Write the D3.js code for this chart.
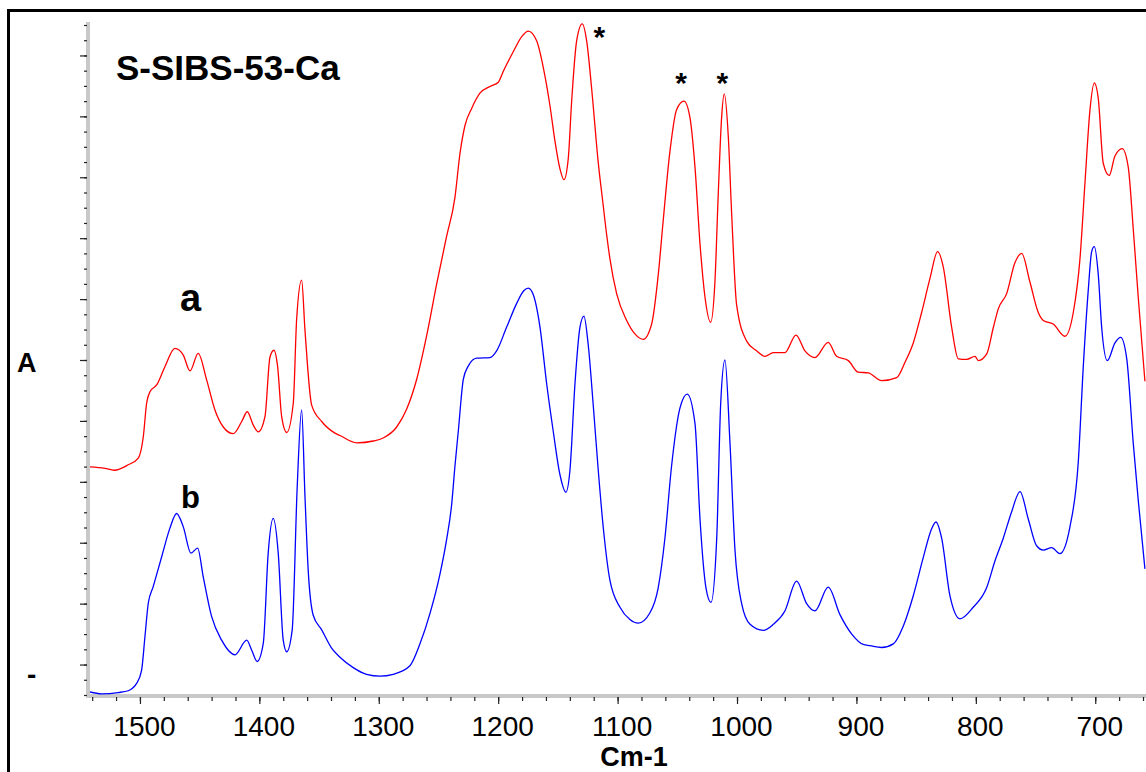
<!DOCTYPE html>
<html>
<head>
<meta charset="utf-8">
<script src="https://cdn.jsdelivr.net/npm/d3@7"></script>
<style>
  html, body { margin: 0; padding: 0; background: #fff; }
  svg { display: block; }
</style>
</head>
<body>
<svg id="chart" width="1146" height="772"></svg>
<script>
// ---- Data ----
const wavenumberA = [1546.1,1529.3,1521.5,1509.8,1501.4,1497.2,1494.4,1491.6,1486.0,1479.1,1470.7,1463.7,1458.1,1451.2,1444.1,1437.2,1430.2,1421.9,1414.8,1410.1,1405.1,1400.9,1395.3,1391.1,1387.8,1384.7,1381.3,1377.1,1371.6,1368.8,1364.6,1361.8,1356.2,1347.8,1336.7,1332.5,1318.5,1304.6,1296.3,1285.0,1276.7,1268.3,1259.9,1251.5,1243.2,1236.2,1232.0,1227.8,1222.2,1215.3,1206.9,1199.9,1195.7,1187.4,1180.3,1174.8,1167.8,1162.3,1156.6,1152.5,1148.3,1144.9,1141.3,1138.5,1134.3,1129.6,1125.9,1121.7,1116.2,1112.0,1110.6,1106.4,1100.8,1092.4,1085.5,1078.5,1071.5,1065.9,1061.8,1056.2,1050.6,1044.4,1039.4,1035.2,1031.0,1026.8,1022.1,1018.5,1015.7,1012.9,1010.7,1007.3,1004.5,1000.3,991.9,983.6,976.6,969.6,959.9,950.6,943.1,934.7,923.6,916.6,906.8,898.5,890.1,878.9,866.3,859.4,852.4,845.4,838.4,832.0,827.3,820.2,814.7,807.7,800.7,797.9,790.9,785.4,781.2,774.2,767.2,761.6,754.7,747.7,743.5,735.2,725.4,718.4,712.8,708.6,704.4,700.8,697.5,693.3,688.3,683.5,677.4,672.4,668.2,664.0,658.4];
const absorbanceA = [0.375,0.372,0.369,0.378,0.389,0.424,0.479,0.498,0.509,0.539,0.569,0.558,0.532,0.561,0.517,0.468,0.440,0.429,0.449,0.465,0.443,0.432,0.457,0.555,0.566,0.539,0.457,0.431,0.479,0.616,0.681,0.599,0.476,0.449,0.430,0.426,0.414,0.417,0.422,0.440,0.469,0.518,0.590,0.675,0.753,0.817,0.889,0.935,0.963,0.988,0.999,1.006,1.024,1.056,1.081,1.090,1.074,1.031,0.967,0.910,0.864,0.846,0.881,0.974,1.074,1.102,1.074,0.995,0.874,0.803,0.779,0.716,0.659,0.615,0.593,0.584,0.609,0.691,0.779,0.892,0.961,0.975,0.948,0.867,0.741,0.653,0.612,0.678,0.823,0.948,0.987,0.917,0.791,0.640,0.581,0.565,0.556,0.562,0.562,0.591,0.565,0.554,0.579,0.556,0.549,0.530,0.529,0.516,0.521,0.546,0.578,0.628,0.684,0.728,0.703,0.603,0.552,0.551,0.556,0.549,0.560,0.603,0.634,0.659,0.710,0.725,0.678,0.628,0.615,0.609,0.589,0.628,0.716,0.841,0.961,1.005,0.980,0.873,0.853,0.885,0.897,0.867,0.766,0.653,0.515];

const wavenumberB = [1541.9,1532.1,1518.2,1509.8,1502.8,1498.6,1495.8,1493.0,1488.9,1481.8,1474.9,1469.3,1463.7,1457.3,1451.7,1447.0,1440.0,1431.6,1420.4,1410.6,1406.5,1401.8,1396.7,1392.6,1388.4,1384.2,1380.0,1377.1,1372.5,1368.3,1364.6,1361.8,1359.1,1354.9,1347.8,1339.5,1332.5,1321.4,1310.2,1299.0,1287.9,1273.9,1265.5,1257.1,1248.8,1243.2,1239.0,1236.2,1233.4,1229.2,1225.1,1218.0,1206.9,1201.3,1192.9,1184.5,1178.4,1174.8,1170.6,1165.0,1159.4,1153.9,1148.3,1143.3,1139.9,1135.7,1131.5,1128.2,1124.6,1120.4,1116.2,1112.0,1106.4,1098.0,1089.7,1082.7,1072.9,1066.0,1060.4,1054.8,1047.8,1041.7,1035.2,1031.0,1026.0,1021.8,1017.0,1013.7,1010.1,1005.9,1001.7,996.1,989.1,978.0,969.6,959.9,950.1,941.7,934.7,923.6,913.8,903.9,894.3,888.6,878.9,869.1,860.8,852.4,844.0,837.0,833.4,828.6,821.7,813.3,802.2,791.0,784.0,777.1,770.0,763.0,756.1,749.1,743.5,736.5,729.6,721.2,714.2,710.0,705.8,703.0,700.8,697.5,694.6,689.9,683.5,678.7,673.7,668.2,664.0,658.4];
const absorbanceB = [0.005,0.002,0.004,0.007,0.019,0.041,0.096,0.151,0.178,0.227,0.274,0.298,0.276,0.233,0.241,0.194,0.129,0.090,0.066,0.090,0.074,0.055,0.085,0.233,0.290,0.233,0.090,0.071,0.107,0.342,0.468,0.326,0.205,0.131,0.107,0.077,0.062,0.045,0.034,0.031,0.034,0.048,0.084,0.134,0.198,0.255,0.312,0.376,0.433,0.518,0.540,0.553,0.554,0.565,0.604,0.643,0.664,0.668,0.657,0.604,0.511,0.433,0.362,0.333,0.369,0.511,0.604,0.622,0.575,0.476,0.369,0.275,0.188,0.144,0.124,0.118,0.135,0.176,0.257,0.376,0.471,0.494,0.446,0.289,0.176,0.152,0.257,0.477,0.550,0.414,0.238,0.150,0.116,0.106,0.116,0.138,0.187,0.150,0.138,0.177,0.132,0.100,0.083,0.081,0.078,0.084,0.113,0.163,0.226,0.273,0.284,0.257,0.163,0.125,0.144,0.176,0.220,0.257,0.301,0.334,0.289,0.245,0.238,0.242,0.232,0.276,0.383,0.540,0.666,0.728,0.736,0.691,0.603,0.549,0.578,0.587,0.553,0.414,0.320,0.207];

const xTickValues = [1500, 1400, 1300, 1200, 1100, 1000, 900, 800, 700];
const xMinorTickValues = d3.range(1540, 659, -20);
const yMajorTickValues = d3.range(0, 11).map(i => 0.05 + i * 0.1);
const yMinorTickValues = d3.range(0, 45).map(i => i * 0.025);
const asteriskPeaks = [1129.6, 1044.4, 1010.7];
const seriesLabels = ["a", "b"];
const titleText = "S-SIBS-53-Ca";
const xAxisTitle = "Cm-1";
const yAxisTitle = "A";

// ---- Scales ----
const xScale = d3.scaleLinear().domain([1543.5, 657.5]).range([88, 1146]);
const yScale = d3.scaleLinear().domain([0, 1.1]).range([695, 25]);

const svg = d3.select("#chart");
const FONT = "'Liberation Sans', Arial, Helvetica, sans-serif";

// outer frame
svg.append("rect")
  .attr("x", 8.5).attr("y", 10.5)
  .attr("width", 1300).attr("height", 900)
  .attr("fill", "none").attr("stroke", "#000").attr("stroke-width", 3);

// gray axis bars
svg.append("line")
  .attr("x1", xScale.range()[0]).attr("x2", xScale.range()[1])
  .attr("y1", 696).attr("y2", 696)
  .attr("stroke", "#c8c8c8").attr("stroke-width", 4);
svg.append("line")
  .attr("x1", 88).attr("x2", 88)
  .attr("y1", 22).attr("y2", 698)
  .attr("stroke", "#c8c8c8").attr("stroke-width", 4);

// x axis ticks
const styleTicks = g => {
  g.select(".domain").remove();
  g.selectAll(".tick line").attr("stroke", "#222").attr("stroke-width", 1.2);
};
svg.append("g")
  .attr("transform", "translate(0,697)")
  .call(d3.axisBottom(xScale).tickValues(xMinorTickValues).tickSize(4).tickFormat(""))
  .call(styleTicks);
const xMajor = svg.append("g")
  .attr("transform", "translate(0,697)")
  .call(d3.axisBottom(xScale).tickValues(xTickValues).tickSize(7).tickFormat(d3.format("d")))
  .call(styleTicks);
xMajor.selectAll(".tick text")
  .attr("dy", null).attr("y", 38.5).attr("dx", 4)
  .attr("fill", "#000")
  .style("font-family", FONT).style("font-size", "28px");

// y axis ticks
svg.append("g")
  .attr("transform", "translate(87,0)")
  .call(d3.axisLeft(yScale).tickValues(yMinorTickValues).tickSize(3).tickFormat(""))
  .call(styleTicks);
svg.append("g")
  .attr("transform", "translate(87,0)")
  .call(d3.axisLeft(yScale).tickValues(yMajorTickValues).tickSize(7).tickFormat(""))
  .call(styleTicks);

// clip
svg.append("clipPath").attr("id", "plotclip")
  .append("rect").attr("x", 90).attr("y", 0).attr("width", 1060).attr("height", 700);

const lineGen = (xs, ys) => d3.line()
  .curve(d3.curveMonotoneX)
  .x((d, i) => xScale(xs[i]))
  .y((d, i) => yScale(ys[i]))(xs);

svg.append("path")
  .attr("d", lineGen(wavenumberA, absorbanceA))
  .attr("fill", "none").attr("stroke", "#ff0000").attr("stroke-width", 1.3)
  .attr("clip-path", "url(#plotclip)");
svg.append("path")
  .attr("d", lineGen(wavenumberB, absorbanceB))
  .attr("fill", "none").attr("stroke", "#0000ff").attr("stroke-width", 1.3)
  .attr("clip-path", "url(#plotclip)");

// texts
svg.append("text").text(titleText)
  .attr("x", 116).attr("y", 80)
  .style("font-family", FONT).style("font-weight", "bold").style("font-size", "35px");

svg.append("text").text(seriesLabels[0])
  .attr("x", 180).attr("y", 311)
  .style("font-family", FONT).style("font-weight", "bold").style("font-size", "38px");
svg.append("text").text(seriesLabels[1])
  .attr("x", 181).attr("y", 508)
  .style("font-family", FONT).style("font-weight", "bold").style("font-size", "31px");

svg.append("text").text(yAxisTitle)
  .attr("x", 17).attr("y", 372)
  .style("font-family", FONT).style("font-weight", "bold").style("font-size", "27px");
svg.append("text").text("-")
  .attr("x", 27).attr("y", 684)
  .style("font-family", FONT).style("font-weight", "bold").style("font-size", "28px");

svg.append("text").text(xAxisTitle)
  .attr("x", 634).attr("y", 766)
  .attr("text-anchor", "middle")
  .style("font-family", FONT).style("font-weight", "bold").style("font-size", "27px");

// asterisks over marked peaks
const starOffsets = [17, -3, -2];
const starY = [47, 93, 93];
svg.selectAll("text.star").data(asteriskPeaks).enter()
  .append("text").attr("class", "star")
  .text("*")
  .attr("x", (d, i) => xScale(d) + starOffsets[i])
  .attr("y", (d, i) => starY[i])
  .attr("text-anchor", "middle")
  .style("font-family", FONT).style("font-weight", "bold").style("font-size", "30px");
</script>
</body>
</html>
